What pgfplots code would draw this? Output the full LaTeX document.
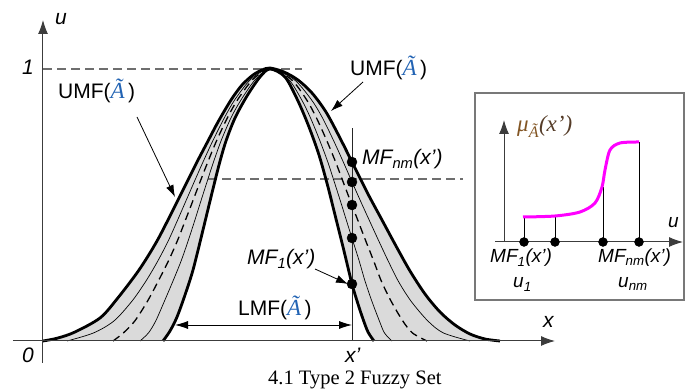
\documentclass[border=0pt]{standalone}
\usepackage{pgfplots}
\pgfplotsset{compat=1.18}
\usepackage{pgfplotstable}
\usepgfplotslibrary{fillbetween}
\usetikzlibrary{arrows.meta}
\usepackage{fontspec}
\setmainfont{Liberation Sans}
\newfontfamily\serif{Liberation Serif}
\definecolor{fillgray}{RGB}{218,218,218}
\definecolor{axisgray}{RGB}{60,60,60}
\definecolor{dashgray}{RGB}{110,110,110}
\definecolor{boxgray}{RGB}{120,120,120}
\definecolor{ablue}{RGB}{35,100,180}
\definecolor{mubrown}{RGB}{130,85,35}
\definecolor{mudark}{RGB}{85,60,40}
\definecolor{mag}{RGB}{255,0,255}

% upper membership function
\pgfplotstableread{
x y
0 0
15 3
32 9
57 23
74 42
96 71
114 100
131 133
141 153
154 179
165 200
175 219
188 241
199 256
210 266
219 271
227 273
241 269
255 261
269 248
283 229
297 203
311 175
325 147
339 121
353 95
367 70
382 47
397 29
412 16
427 7
442 2
457 0
}\tabU
% lower membership function
\pgfplotstableread{
x y
120 0
127 10
134 24
142 46
150 71
159 107
168 144
176 176
183 200
192 223
204 245
217 264
227 272
242 264
255 240
266 214
276 186
285 154
293 122
301 90
309 57
315 37
320 22
325 9
331 0
}\tabL
% thin outer
\pgfplotstableread{
x y
24 0
50.4 8
70.9 20
89.1 40
103 60
114.8 80
125.2 100
134.2 120
142.9 140
151.6 160
160 179
170.2 201
181.8 224
192.3 242
208.2 262
227 272
250.4 262
267.9 242
279 224
290.3 201
300.3 179
308.6 160
317.5 140
326.6 120
335.8 100
345.2 80
355.2 60
367.9 40
384.9 20
400.5 8
427 0
}\tabTO
% dashed middle
\pgfplotstableread{
x y
70 0
80.3 8
91.8 20
104.6 40
115.3 60
125.4 80
134.3 100
142.1 120
149.8 140
157.4 160
164.8 179
173.9 201
184.8 224
195.1 242
210.3 262
227 272
247.8 262
263.1 242
273 224
283.5 201
292.6 179
299.8 160
307.4 140
315.1 120
322.8 100
330.7 80
338.3 60
348 40
359.8 20
369.5 8
384 0
}\tabD
% thin inner
\pgfplotstableread{
x y
97 0
105.4 8
112.7 20
121.5 40
130 60
138.1 80
145.1 100
151.6 120
157.9 140
164.3 160
170.5 179
178.4 201
188.4 224
198.6 242
212.8 262
227 272
245.3 262
258.2 242
267.1 224
276.6 201
284.8 179
291 160
297.4 140
303.6 120
309.9 100
316.2 80
322 60
328.8 40
336.4 20
341.5 8
349 0
}\tabTI

\newcommand{\At}{{\serif\fontsize{23}{24}\selectfont\itshape\color{ablue}Ã}}
\newcommand{\lab}{\fontsize{21}{24}\selectfont}
\newcommand{\ilab}{\fontsize{19}{22}\selectfont}

\begin{document}
\begin{tikzpicture}
\begin{axis}[
  at={(0pt,0pt)}, anchor=south west,
  x=1pt, y=1pt,
  xmin=-30, xmax=512, ymin=-22, ymax=321,
  enlargelimits=false,
  axis lines=middle,
  axis line style={draw=axisgray, line width=1pt},
  every inner x axis line/.append style={-{Latex[length=14pt,width=10pt]}},
  every inner y axis line/.append style={-{Latex[length=14pt,width=10pt]}},
  xtick=\empty, ytick=\empty,
  clip=false, axis on top,
]
\addplot[name path=U, draw=none, smooth] table {\tabU};
\addplot[name path=L, draw=none, smooth] table {\tabL};
\addplot[fill=fillgray, draw=none] fill between[of=U and L];

\addplot[dashgray, line width=1.4pt, dash pattern=on 9pt off 5pt] coordinates {(0,272) (259,272)};
\addplot[dashgray, line width=1.2pt, dash pattern=on 9pt off 5pt] coordinates {(165,162) (420,162)};

\addplot[black!85, line width=0.8pt] coordinates {(309,0) (309,213)};

\addplot[black, line width=0.7pt, smooth] table {\tabTO};
\addplot[black, line width=0.7pt, smooth] table {\tabTI};
\addplot[black, line width=1.3pt, dash pattern=on 8pt off 5pt, smooth] table {\tabD};
\addplot[black, line width=2.8pt, smooth] table {\tabU};
\addplot[black, line width=2.8pt, smooth] table {\tabL};

\addplot[only marks, mark=*, mark size=5pt, black] coordinates {(309,179) (309,159) (309,136) (309,103) (309,57)};

% annotation arrows
\draw[black, line width=0.8pt, -{Latex[length=12pt,width=8pt]}] (94,224) -- (132,144);
\draw[black, line width=0.8pt, -{Latex[length=12pt,width=8pt]}] (320,259) -- (288,230);
\draw[black, line width=0.8pt, -{Latex[length=12pt,width=8pt]}] (272,72) -- (305,57);
\draw[black, line width=0.8pt, {Latex[length=13pt,width=8pt]}-{Latex[length=13pt,width=8pt]}] (132,16) -- (309,16);

% labels
\node[anchor=base west, font=\lab, inner sep=0pt] at (15,242) {UMF(\At\,)};
\node[anchor=base west, font=\lab, inner sep=0pt] at (307,265) {UMF(\At\,)};
\node[anchor=base west, font=\lab\itshape, inner sep=0pt] at (319,176) {MF\textsubscript{nm}(x’)};
\node[anchor=base west, font=\lab\itshape, inner sep=0pt] at (204,76) {MF\textsubscript{1}(x’)};
\node[anchor=base west, font=\lab, inner sep=0pt] at (195,25) {LMF(\At\,)};
\node[anchor=base west, font=\lab\itshape, inner sep=0pt] at (12,316) {u};
\node[anchor=base west, font=\lab\itshape, inner sep=0pt] at (500,13) {x};
\node[anchor=base west, font=\lab\itshape, inner sep=0pt] at (-21,266) {1};
\node[anchor=base west, font=\lab\itshape, inner sep=0pt] at (-21,-22) {0};
\node[anchor=base west, font=\lab\itshape, inner sep=0pt] at (302,-22) {x’};
\node[anchor=base west, font=\serif\fontsize{20.5}{23}\selectfont, inner sep=0pt] at (225,-44) {4.1 Type 2 Fuzzy Set};
\end{axis}

\begin{axis}[
  at={(482pt,121pt)}, anchor=south west,
  x=1pt, y=1pt,
  xmin=-9, xmax=179, ymin=0, ymax=122,
  enlargelimits=false,
  axis lines=middle,
  axis line style={draw=axisgray, line width=1pt},
  every inner x axis line/.append style={-{Latex[length=14pt,width=10pt]}},
  every inner y axis line/.append style={-{Latex[length=14pt,width=10pt]}},
  xtick=\empty, ytick=\empty,
  clip=false,
]
\draw[boxgray, line width=1.1pt] (-29,-58) rectangle (180,149);
\addplot[black, line width=1pt, ycomb] coordinates {(20,25) (51,26) (99,55) (135,100)};
\addplot[mag, line width=3pt, smooth] coordinates {(19,25) (51,26) (76,30) (91,39) (98,55) (101,72) (106,92) (116,99) (135,100)};
\addplot[only marks, mark=*, mark size=4.5pt, black] coordinates {(20,0) (51,0) (99,0) (135,0)};
\node[anchor=base west, inner sep=0pt, font=\serif\fontsize{23}{25}\selectfont\itshape] at (13,110) {\color{mubrown}μ\textsubscript{Ã}\color{mudark}(x’)};
\node[anchor=base west, font=\ilab\itshape, inner sep=0pt] at (164,14) {u};
\node[anchor=base west, font=\ilab\itshape, inner sep=0pt] at (-14,-21) {MF\textsubscript{1}(x’)};
\node[anchor=base west, font=\ilab\itshape, inner sep=0pt] at (9,-46) {u\textsubscript{1}};
\node[anchor=base west, font=\ilab\itshape, inner sep=0pt] at (94,-21) {MF\textsubscript{nm}(x’)};
\node[anchor=base west, font=\ilab\itshape, inner sep=0pt] at (114,-46) {u\textsubscript{nm}};
\end{axis}
\path (-13pt,-27pt) rectangle (675pt,363pt);
\end{tikzpicture}
\end{document}
